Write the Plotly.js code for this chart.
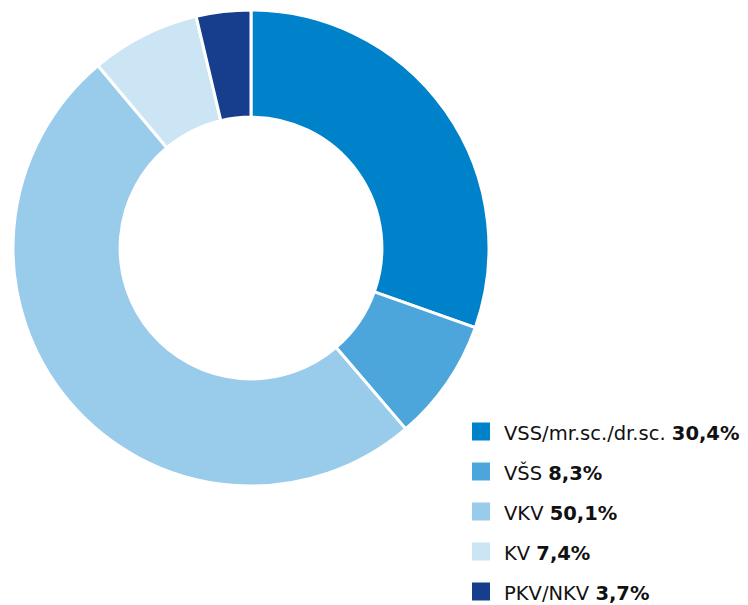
<!DOCTYPE html>
<html>
<head>
<meta charset="utf-8">
<script src="https://cdn.plot.ly/plotly-3.0.1.min.js"></script>
<style>html,body{margin:0;padding:0;background:#fff;}#chart{width:748px;height:605px;}</style>
</head>
<body>
<div id="chart"></div>
<script>
const categories = ["VSS/mr.sc./dr.sc.", "VŠS", "VKV", "KV", "PKV/NKV"];
const values = [30.4, 8.3, 50.1, 7.4, 3.7];
const valueLabels = ["30,4%", "8,3%", "50,1%", "7,4%", "3,7%"];
const colors = ["#0082CA", "#4DA6DB", "#99CBEA", "#CCE5F4", "#163E8C"];

const W = 748, H = 605;
const cx = 251, cy = 248, R = 238;

const trace = {
  type: "pie",
  labels: categories,
  values: values,
  sort: false,
  direction: "clockwise",
  rotation: 0,
  hole: 0.55,
  textinfo: "none",
  hoverinfo: "label+percent",
  marker: {colors: colors, line: {color: "#ffffff", width: 3}},
  domain: {x: [(cx - R) / W, (cx + R) / W], y: [(H - cy - R) / H, (H - cy + R) / H]},
  showlegend: false
};

const shapes = [];
const annotations = [];
const legX0 = 472, legSize = 18, legTextX = 503, legY0 = 431.5, legStep = 40;
categories.forEach((c, i) => {
  const yc = legY0 + i * legStep;
  shapes.push({
    type: "rect", xref: "paper", yref: "paper",
    x0: legX0 / W, x1: (legX0 + legSize) / W,
    y0: 1 - (yc + legSize / 2) / H, y1: 1 - (yc - legSize / 2) / H,
    fillcolor: colors[i], line: {width: 0}
  });
  annotations.push({
    xref: "paper", yref: "paper", x: legTextX / W, y: 1 - (yc + 1.5) / H,
    xanchor: "left", yanchor: "middle", showarrow: false, borderpad: 0,
    text: c + " <b>" + valueLabels[i] + "</b>",
    font: {family: "'DejaVu Sans', sans-serif", size: 19.5, color: "#111111"}
  });
});

Plotly.newPlot("chart", [trace], {
  width: W, height: H,
  margin: {l: 0, r: 0, t: 0, b: 0},
  paper_bgcolor: "#ffffff",
  showlegend: false,
  shapes: shapes,
  annotations: annotations
}, {displayModeBar: false, staticPlot: true});
</script>
</body>
</html>
